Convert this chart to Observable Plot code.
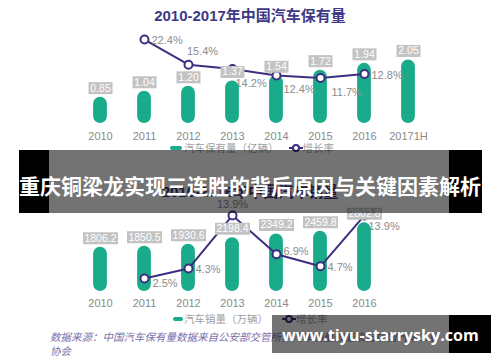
<!DOCTYPE html>
<html><head><meta charset="utf-8">
<script src="https://cdn.jsdelivr.net/npm/d3@7"></script>
<script src="https://cdn.jsdelivr.net/npm/@observablehq/plot@0.6"></script>
<style>
body{margin:0;background:#fff;}
#page{position:relative;width:500px;height:362px;overflow:hidden;background:#fff;font-family:"Liberation Sans","Noto Sans CJK SC",sans-serif;}
.layer{position:absolute;left:0;}
.title{position:absolute;left:0;width:500px;text-align:center;font-size:15px;font-weight:bold;color:#3e3886;line-height:18px;white-space:nowrap;}
.legend{position:absolute;font-size:10.5px;color:#a0a0a0;line-height:14px;white-space:nowrap;display:flex;align-items:center;}
.legend svg{display:block;}
.footer{position:absolute;left:50px;font-size:10.5px;line-height:14px;color:#7a70ab;font-style:italic;white-space:nowrap;}
</style></head>
<body><div id="page">
<div class="title" style="top:7px">2010-2017年中国汽车保有量</div>
<div id="top" class="layer" style="top:0"></div>
<div class="legend" style="left:170px;top:141px">
  <svg width="12" height="6"><rect x="0" y="1" width="12" height="4" rx="2" fill="#1aab8b"/></svg>
  <span style="margin-left:2px">汽车保有量（亿辆）</span>
  <svg width="14" height="10" style="margin-left:10px"><line x1="0" y1="5" x2="14" y2="5" stroke="#3c2f80" stroke-width="2"/><circle cx="7" cy="5" r="3" fill="#fff" stroke="#3c2f80" stroke-width="2"/></svg>
  <span>增长率</span>
</div>
<div class="title" style="top:183px">2010-2016年中国汽车销量</div>
<div id="bottom" class="layer" style="top:150px"></div>
<div class="legend" style="left:173px;top:312px">
  <svg width="10" height="6"><rect x="0" y="1" width="10" height="4" rx="2" fill="#1aab8b"/></svg>
  <span style="margin-left:1px">汽车销量（万辆）</span>
  <svg width="14" height="10" style="margin-left:14px"><line x1="0" y1="5" x2="14" y2="5" stroke="#3c2f80" stroke-width="2"/><circle cx="7" cy="5" r="3" fill="#fff" stroke="#3c2f80" stroke-width="2"/></svg>
  <span>增长率</span>
</div>
<div class="footer" style="top:330px">数据来源：中国汽车保有量数据来自公安部交管所，汽车销量数据来自中国汽车工业<br>协会</div>
<svg id="overlay" class="layer" style="top:0" width="500" height="362"></svg>
</div>
<script>
// ---- data ----
const stockYears = ["2010","2011","2012","2013","2014","2015","2016","20171H"];
const stockValues = [0.85, 1.04, 1.20, 1.37, 1.54, 1.72, 1.94, 2.05];
const stockGrowthYears = ["2011","2012","2013","2014","2015","2016"];
const stockGrowthValues = [22.4, 15.4, 14.2, 12.4, 11.7, 12.8];

const salesYears = ["2010","2011","2012","2013","2014","2015","2016"];
const salesValues = [1806.2, 1850.5, 1930.6, 2198.4, 2349.2, 2459.8, 2802.8];
const salesGrowthYears = ["2011","2012","2013","2014","2015","2016"];
const salesGrowthValues = [2.5, 4.3, 13.9, 6.9, 4.7, 13.9];

// ---- styling ----
const GREEN = "#1aab8b";
const PURPLE = "#3c2f80";
const BOXGRAY = "#c3c3c3";
const LABEL = "#8c8c8c";
const FONT = '"Liberation Sans","Noto Sans CJK SC",sans-serif';

const stockRows = stockYears.map((year, i) => ({year, value: stockValues[i]}));
const stockGrowthRows = stockGrowthYears.map((year, i) => ({year, g: stockGrowthValues[i]}));
const salesRows = salesYears.map((year, i) => ({year, value: salesValues[i]}));
const salesGrowthRows = salesGrowthYears.map((year, i) => ({year, g: salesGrowthValues[i]}));

// secondary (growth-rate) axes mapped into the bar value domain
const g1 = d3.scaleLinear().domain([0, 30]).range([0.108, 3.591]);
const g2 = d3.scaleLinear().domain([0, 20]).range([-33.7, 4480.3]);

const box = (w, h) => ({draw(ctx) { ctx.rect(-w / 2, -h / 2, w, h); }});
const pct = d => d.g.toFixed(1) + "%";
const lbl = (rows, fy, years, opts) =>
  Plot.text(rows, {filter: d => years.includes(d.year), x: "year", y: d => fy(d.g), text: pct,
    fill: LABEL, fontSize: 11, textAnchor: "start", ...opts});

const topPlot = Plot.plot({
  width: 500, height: 142,
  marginTop: 0, marginBottom: 19, marginLeft: 77, marginRight: 69,
  style: {background: "transparent", fontFamily: FONT, fontSize: "11px", color: "#8a8a8a", overflow: "visible"},
  x: {type: "band", domain: stockYears, padding: 0, tickSize: 0, tickPadding: 9, label: null},
  y: {domain: [0, 123 / 31], axis: null},
  marks: [
    lbl(stockGrowthRows, g1, ["2013"], {dx: 3, dy: 14}),
    Plot.barY(stockRows, {x: "year", y: "value", fill: GREEN, insetLeft: 15.1, insetRight: 15.1, rx: 7}),
    Plot.line(stockGrowthRows, {x: "year", y: d => g1(d.g), stroke: PURPLE, strokeWidth: 2}),
    Plot.dot(stockGrowthRows, {x: "year", y: d => g1(d.g), r: 4, fill: "white", stroke: PURPLE, strokeWidth: 2}),
    Plot.dot(stockRows, {x: "year", y: "value", symbol: box(24, 12), fill: BOXGRAY, dy: -9}),
    Plot.text(stockRows, {x: "year", y: "value", text: d => d.value.toFixed(2), fill: "white", fontSize: 10.5, dy: -9}),
    lbl(stockGrowthRows, g1, ["2011", "2016"], {dx: 7, dy: 1}),
    lbl(stockGrowthRows, g1, ["2012"], {dx: 14, dy: -13, textAnchor: "middle"}),
    lbl(stockGrowthRows, g1, ["2014"], {dx: 7, dy: 14}),
    lbl(stockGrowthRows, g1, ["2015"], {dx: 11, dy: 14})
  ]
});
document.getElementById("top").appendChild(topPlot);

const bottomPlot = Plot.plot({
  width: 500, height: 155,
  marginTop: 0, marginBottom: 14, marginLeft: 77, marginRight: 113.6,
  style: {background: "transparent", fontFamily: FONT, fontSize: "11px", color: "#8a8a8a", overflow: "visible"},
  x: {type: "band", domain: salesYears, padding: 0, tickSize: 0, tickPadding: 8, label: null},
  y: {domain: [0, 141 / 0.0245], axis: null},
  marks: [
    Plot.barY(salesRows, {x: "year", y: "value", fill: GREEN, insetLeft: 15.1, insetRight: 15.1, rx: 7}),
    Plot.line(salesGrowthRows, {x: "year", y: d => g2(d.g), stroke: PURPLE, strokeWidth: 2}),
    Plot.dot(salesGrowthRows, {x: "year", y: d => g2(d.g), r: 4, fill: "white", stroke: PURPLE, strokeWidth: 2}),
    Plot.dot(salesRows, {x: "year", y: "value", symbol: box(35, 12), fill: BOXGRAY, dy: -9}),
    Plot.text(salesRows, {x: "year", y: "value", text: d => d.value.toFixed(1), fill: "white", fontSize: 10.5, dy: -9}),
    lbl(salesGrowthRows, g2, ["2011"], {dx: 8, dy: 5}),
    lbl(salesGrowthRows, g2, ["2012", "2015"], {dx: 7, dy: 1}),
    lbl(salesGrowthRows, g2, ["2014"], {dx: 7, dy: -3}),
    lbl(salesGrowthRows, g2, ["2013"], {dx: 0, dy: -11, textAnchor: "middle"}),
    lbl(salesGrowthRows, g2, ["2016"], {dx: 4, dy: 11})
  ]
});
document.getElementById("bottom").appendChild(bottomPlot);

// overlay banners
const ov = d3.select("#overlay");
ov.append("rect").attr("x", 19).attr("y", 150).attr("width", 30).attr("height", 63).attr("fill", "#000");
ov.append("rect").attr("x", 49).attr("y", 150).attr("width", 400).attr("height", 63).attr("fill", "#000").attr("fill-opacity", 0.55);
ov.append("rect").attr("x", 449).attr("y", 150).attr("width", 33).attr("height", 63).attr("fill", "#000");
ov.append("text").attr("x", 250).attr("y", 185).attr("dominant-baseline", "central").attr("text-anchor", "middle")
  .attr("font-family", '"Noto Sans CJK SC",sans-serif').attr("font-weight", "bold").attr("font-size", 21)
  .attr("fill", "#fff")
  .text("重庆铜梁龙实现三连胜的背后原因与关键因素解析");
ov.append("rect").attr("x", 272).attr("y", 315).attr("width", 177).attr("height", 38).attr("fill", "#000").attr("fill-opacity", 0.55);
ov.append("rect").attr("x", 449).attr("y", 315).attr("width", 42).attr("height", 38).attr("fill", "#000");
const wm = ov.append("text").attr("x", 282).attr("y", 335).attr("dominant-baseline", "central")
  .attr("font-family", '"Open Sans","DejaVu Sans",sans-serif').attr("font-weight", "bold").attr("font-size", 18)
  .attr("fill", "#fff")
  .text("www.tiyu-starrysky.com");
// fit the watermark to its banner width
const wl = wm.node().getComputedTextLength();
if (wl > 0) wm.attr("font-size", 18 * 197 / wl);
</script>
</body></html>
